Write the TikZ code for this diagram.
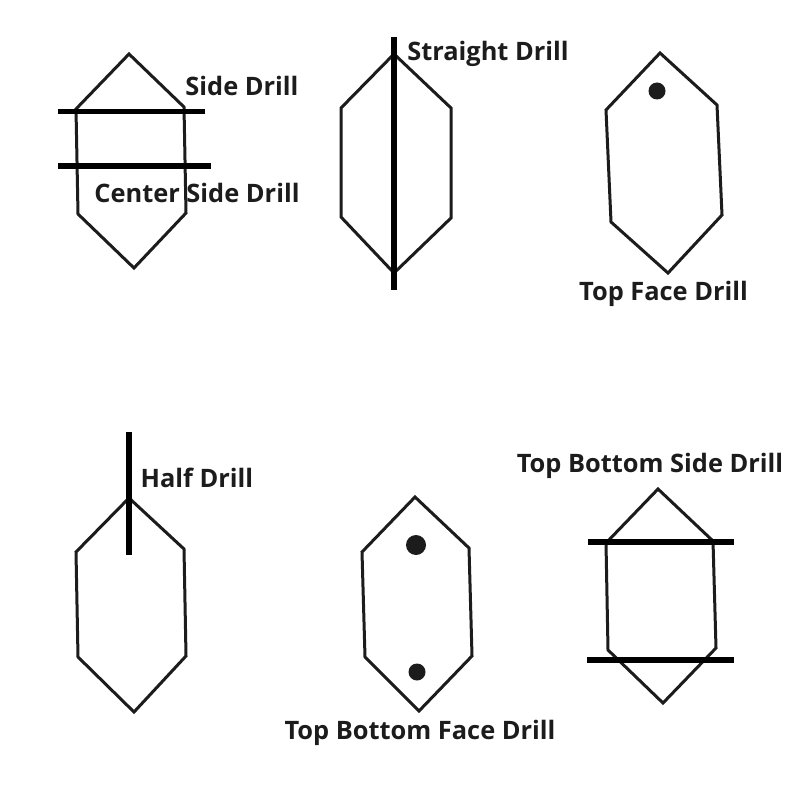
\documentclass[tikz,border=0pt]{standalone}
\usepackage{fontspec}
\setmainfont{Open Sans}
\usepackage{tikz}
\definecolor{drillink}{HTML}{1c1c1c}
\tikzset{
	outline/.style={draw=drillink, line width=3pt, line join=miter},
	drillbar/.style={draw=black, line width=5.5pt},
	drillhole/.style={circle, fill=drillink, inner sep=0pt},
	drilllabel/.style={font=\fontsize{25.4}{28}\selectfont\bfseries, text=drillink, inner sep=0pt},
}
\begin{document}
\begin{tikzpicture}[x=1pt,y=-1pt]
	\useasboundingbox (0,0) rectangle (794,794);
	\fill[white] (0,0) rectangle (794,794);
	% side drill
	\draw[outline] (129,54) -- (76,109) -- (78,214) -- (134,268) -- (186,213) -- (184,107) -- cycle;
	\coordinate (sideL) at (58,111.5);
	\coordinate (sideR) at (205,111.5);
	\coordinate (centerL) at (58,166);
	\coordinate (centerR) at (211,166);
	\draw[drillbar] (sideL) -- (sideR);
	\draw[drillbar] (centerL) -- (centerR);
	\node[drilllabel] (sidetext) at (242,86) {Side Drill};
	\node[drilllabel] (centertext) at (197,192.5) {Center Side Drill};
	% straight drill
	\draw[outline] (394,54) -- (341,108) -- (341,217) -- (394,273) -- (451,218) -- (451,108) -- cycle;
	\coordinate (straightT) at (394,37);
	\coordinate (straightB) at (394,290);
	\draw[drillbar] (straightT) -- (straightB);
	\node[drilllabel] (straighttext) at (488,54) {Straight Drill};
	% top face drill
	\draw[outline] (660,53) -- (606,110) -- (611,222) -- (668,273) -- (722,215) -- (717,105) -- cycle;
	\node[drillhole, minimum size=17pt] (tophole) at (657,91) {};
	\node[drilllabel] (toptext) at (663.5,294) {Top Face Drill};
	% half drill
	\draw[outline] (129,498) -- (76,552) -- (78,657) -- (134,712) -- (186,656) -- (184,549) -- cycle;
	\coordinate (halfT) at (129,432);
	\coordinate (halfB) at (129,555);
	\draw[drillbar] (halfT) -- (halfB);
	\node[drilllabel] (halftext) at (197,478) {Half Drill};
	% top bottom face drill
	\draw[outline] (415,497) -- (362,552) -- (365,657) -- (419,711) -- (472,656) -- (469,548) -- cycle;
	\node[drillhole, minimum size=20pt] (upperhole) at (416,545) {};
	\node[drillhole, minimum size=17pt] (lowerhole) at (417,672) {};
	\node[drilllabel] (facetext) at (420,733) {Top Bottom Face Drill};
	% top bottom side drill
	\draw[outline] (658,489) -- (606,543) -- (608,650) -- (663,703) -- (716,648) -- (713,541) -- cycle;
	\coordinate (upperL) at (588,542);
	\coordinate (upperR) at (734,542);
	\coordinate (lowerL) at (587,660);
	\coordinate (lowerR) at (734,660);
	\draw[drillbar] (upperL) -- (upperR);
	\draw[drillbar] (lowerL) -- (lowerR);
	\node[drilllabel] (bothtext) at (650,465.5) {Top Bottom Side Drill};
\end{tikzpicture}
\end{document}
